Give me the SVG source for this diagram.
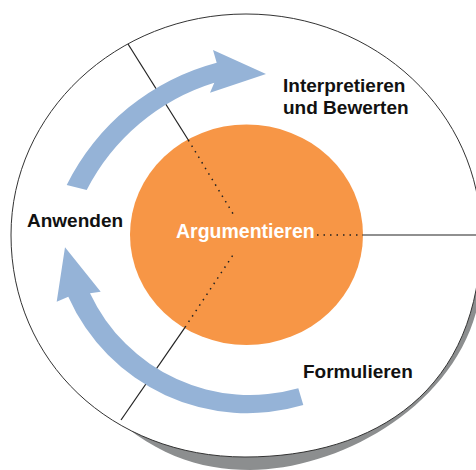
<svg xmlns="http://www.w3.org/2000/svg" width="476" height="470" viewBox="0 0 476 470">
<style>
.lbl{font-family:"Liberation Sans",Arial,sans-serif;font-weight:bold;font-size:19px;fill:#111}
.core{font-family:"Liberation Sans",Arial,sans-serif;font-weight:bold;font-size:19.5px;fill:#fff}
.solid{stroke:#222;stroke-width:1.2;fill:none}
.dot{stroke:#222;stroke-width:1.5;fill:none;stroke-dasharray:1.5 5}
.arrow{fill:#95B3D7}
</style>
<rect width="476" height="470" fill="#fff"/>
<g id="ring">
<path d="M98,402 C150,455 200,470 250,470 C350,470 486,390 482,262 L482,235 L300,235 Z" fill="#8c8e8f"/>
<path d="M246,14 C375.8,14 481,112.7 481,235 C481,390.4 375.3,457 245,457 C111.6,457 11,361.5 11,235 C11,113 116.2,14 246,14 Z" fill="#fff" stroke="#333" stroke-width="1"/>
</g>
<g id="core-node">
<ellipse cx="246.5" cy="234.75" rx="116.5" ry="110.25" fill="#F79646"/>
</g>
<g id="connectors">
<path class="solid" d="M128,44 L188.3,140"/>
<path class="dot" d="M188.3,140 L235,217"/>
<path class="solid" d="M121,420 L185,327.3"/>
<path class="dot" d="M185,327.3 L235,252"/>
<path class="solid" d="M363,235 L477,235" stroke="#444" stroke-width="1.5"/>
<path class="dot" d="M317,235 L363,235"/>
<path class="arrow" d="M66.7,185 A234,234 0 0 1 216.7,62.7 L213,50 L266,74 L210,92.7 L214.3,82.7 A215,215 0 0 0 86.7,190 Z"/>
<path class="arrow" d="M303.3,405 A196,196 0 0 1 68.3,296.7 L56.7,301.7 L65,247.3 L100.7,291.7 L90,293.3 A177,177 0 0 0 298.3,388.3 Z"/>
</g>
<g id="node-argumentieren"><text class="core" x="176" y="237.5">Argumentieren</text></g>
<g id="node-interpretieren"><text class="lbl" x="283" y="92">Interpretieren</text><text class="lbl" x="283" y="114">und Bewerten</text></g>
<g id="node-anwenden"><text class="lbl" x="27" y="227">Anwenden</text></g>
<g id="node-formulieren"><text class="lbl" x="303" y="378">Formulieren</text></g>
</svg>
